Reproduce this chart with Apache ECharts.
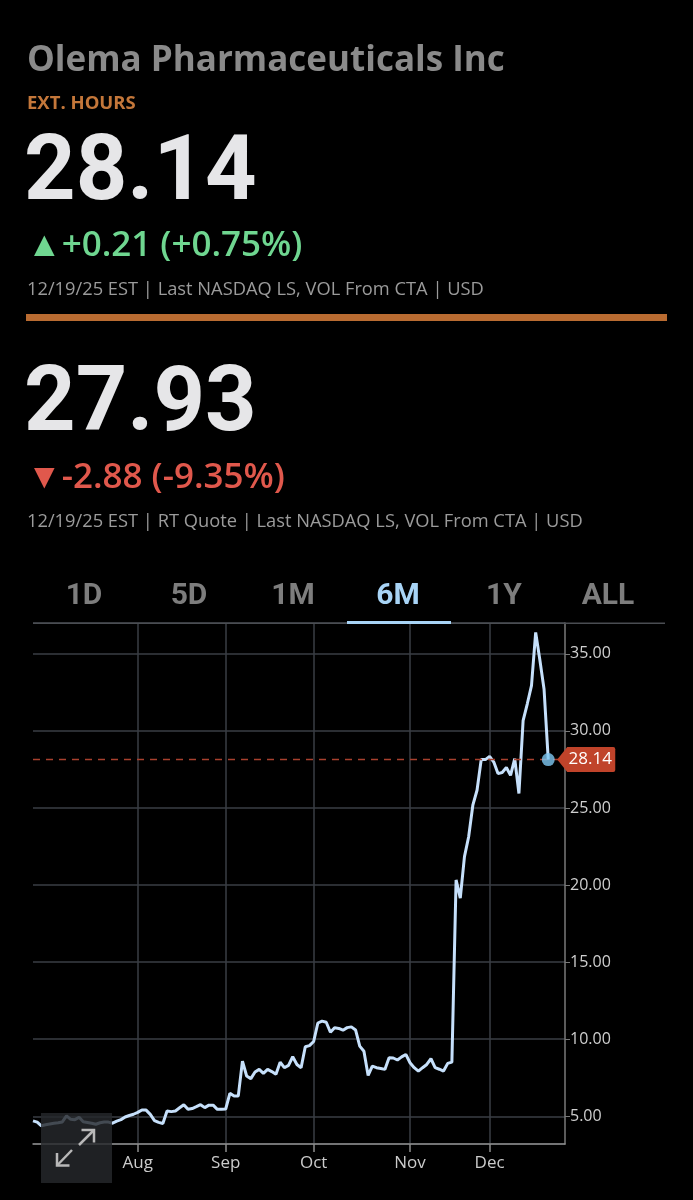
<!DOCTYPE html>
<html>
<head>
<meta charset="utf-8">
<script src="https://cdn.jsdelivr.net/npm/echarts@6/dist/echarts.min.js"></script>
<style>
html,body{margin:0;padding:0;background:#000;}
#chart{width:693px;height:1200px;}
</style>
</head>
<body>
<div id="chart"></div>
<script>
// ---- Data ----
const companyName = 'Olema Pharmaceuticals Inc';
const extLabel = 'EXT. HOURS';
const extPrice = '28.14';
const extChange = '▲+0.21 (+0.75%)';
const extInfo = '12/19/25 EST | Last NASDAQ LS, VOL From CTA | USD';
const closePrice = '27.93';
const closeChange = '▼-2.88 (-9.35%)';
const closeInfo = '12/19/25 EST | RT Quote | Last NASDAQ LS, VOL From CTA | USD';
const rangeTabs = ['1D', '5D', '1M', '6M', '1Y', 'ALL'];
const activeTab = '6M';

// trading days (categories); the last four are empty slots to the right of the last price
const dates = [
  '06-26','06-27','06-30',
  '07-01','07-02','07-03','07-07','07-08','07-09','07-10','07-11','07-14','07-15','07-16','07-17','07-18',
  '07-21','07-22','07-23','07-24','07-25','07-28','07-29','07-30','07-31',
  '08-01','08-04','08-05','08-06','08-07','08-08','08-11','08-12','08-13','08-14','08-15',
  '08-18','08-19','08-20','08-21','08-22','08-25','08-26','08-27','08-28','08-29',
  '09-02','09-03','09-04','09-05','09-08','09-09','09-10','09-11','09-12','09-15','09-16','09-17','09-18','09-19',
  '09-22','09-23','09-24','09-25','09-26','09-29','09-30',
  '10-01','10-02','10-03','10-06','10-07','10-08','10-09','10-10','10-13','10-14','10-15','10-16','10-17',
  '10-20','10-21','10-22','10-23','10-24','10-27','10-28','10-29','10-30','10-31',
  '11-03','11-04','11-05','11-06','11-07','11-10','11-11','11-12','11-13','11-14',
  '11-17','11-18','11-19','11-20','11-21','11-24','11-25','11-26','11-28',
  '12-01','12-02','12-03','12-04','12-05','12-08','12-09','12-10','12-11','12-12',
  '12-15','12-16','12-17','12-18','12-19',
  '12-22','12-23','12-24','12-26'
];

const prices = [
  4.70,4.62,4.38,
  4.45,4.50,4.55,4.58,4.63,5.02,4.80,4.78,4.93,4.64,4.60,4.55,4.48,
  4.58,4.63,4.62,4.55,4.68,4.78,4.95,5.05,5.13,
  5.25,5.41,5.40,5.12,4.72,4.60,4.53,5.34,5.30,5.34,5.55,
  5.75,5.45,5.50,5.62,5.75,5.56,5.72,5.72,5.45,5.45,
  5.47,6.49,6.31,6.31,8.58,7.61,7.44,7.87,8.04,7.78,8.04,7.90,7.72,8.51,
  8.15,8.30,8.86,8.36,8.15,9.51,9.58,
  9.85,11.05,11.17,11.10,10.45,10.74,10.70,10.58,10.75,10.80,10.60,9.55,9.22,
  7.65,8.25,8.15,8.10,8.04,8.80,8.78,8.65,8.85,9.01,
  8.47,8.15,7.93,8.15,8.36,8.73,8.15,8.05,7.93,8.43,
  8.51,20.33,19.15,21.84,23.13,25.18,26.15,28.14,28.14,
  28.35,27.98,27.23,27.30,27.62,27.12,28.20,25.94,30.67,31.76,
  32.94,36.39,34.60,32.70,28.14
];

// month gridlines / tick labels
const monthTicks = ['08-01','09-02','10-01','11-03','12-01'];
const monthLabels = ['Aug','Sep','Oct','Nov','Dec'];

const yMin = 3.2, yMax = 37.0;

// ---- Chart ----
const lastIdx = prices.length - 1;
const lastDate = dates[lastIdx];
const lastPrice = prices[lastIdx];
const isMonthTick = (i, v) => monthTicks.indexOf(v) >= 0;

const FONT = 'Roboto, "Noto Sans", sans-serif';
const WFONT = '"Open Sans", Roboto, sans-serif';
const gridColor = '#3a3e45';

const tabCenters = [84, 189, 293, 398, 504, 608];
const tabGraphics = rangeTabs.map((t, i) => ({
  type: 'text', x: tabCenters[i], y: 596,
  style: { text: t, fontFamily: FONT, fontSize: 30, fontWeight: 'bold',
    fill: t === activeTab ? '#a8d4f6' : '#7d7d7d', align: 'center', verticalAlign: 'middle' }
}));

const chart = echarts.init(document.getElementById('chart'), null, { renderer: 'canvas' });
chart.setOption({
  backgroundColor: '#000',
  animation: false,
  grid: { left: 33, right: 128, top: 623, bottom: 56 },
  xAxis: {
    type: 'category',
    data: dates,
    boundaryGap: false,
    axisLine: { show: true, lineStyle: { color: '#8c8c8c', width: 1.5 } },
    axisTick: { show: true, interval: isMonthTick, length: 8, lineStyle: { color: '#8c8c8c', width: 1.5 } },
    axisLabel: {
      interval: isMonthTick, color: '#cbcbcb', fontSize: 17, fontFamily: WFONT, margin: 11,
      formatter: v => monthLabels[monthTicks.indexOf(v)] || ''
    },
    splitLine: { show: true, interval: isMonthTick, lineStyle: { color: gridColor, width: 1.5 } }
  },
  yAxis: {
    type: 'value',
    position: 'right',
    min: yMin, max: yMax,
    splitNumber: 7,
    axisLine: { show: true, lineStyle: { color: '#7a7a7a', width: 1.5 } },
    axisTick: { show: true, length: 5, lineStyle: { color: '#7a7a7a' } },
    axisLabel: { color: '#cfcfcf', fontSize: 16, fontFamily: WFONT, margin: 5,
      showMinLabel: false, showMaxLabel: false, formatter: v => v.toFixed(2) },
    splitLine: { show: true, lineStyle: { color: gridColor, width: 1.5 } }
  },
  series: [
    {
      type: 'line',
      data: prices,
      showSymbol: false,
      lineStyle: { color: '#c6e0fb', width: 3 },
      itemStyle: { color: '#c6e0fb' },
      z: 3,
      markLine: {
        silent: true, symbol: 'none',
        lineStyle: { color: '#a8402e', type: [7, 6], width: 1.3 },
        label: { show: false },
        data: [{ yAxis: lastPrice }]
      },
      markPoint: {
        silent: true,
        symbol: 'path://M0,12 L10,0 L56,0 Q58,0 58,2 L58,22 Q58,24 56,24 L10,24 Z',
        symbolSize: [58, 25],
        symbolOffset: [38, 0],
        itemStyle: { color: '#c0432a' },
        label: { show: true, position: 'inside', offset: [4, 0], color: '#ffffff',
          fontSize: 17, fontFamily: WFONT, formatter: () => lastPrice.toFixed(2) },
        data: [{ coord: [lastDate, lastPrice] }]
      }
    },
    {
      type: 'scatter',
      data: [[lastDate, lastPrice]],
      symbolSize: 13,
      itemStyle: { color: '#7ec8f2' },
      z: 5
    }
  ],
  graphic: [
    { type: 'text', x: 27, y: 61, style: { text: companyName, fontFamily: WFONT, fontSize: 35, fontWeight: 'bold', fill: '#8a8a8a', verticalAlign: 'middle' } },
    { type: 'text', x: 27, y: 104, style: { text: extLabel, fontFamily: WFONT, fontSize: 18.5, fontWeight: 'bold', fill: '#c4773a', verticalAlign: 'middle' } },
    { type: 'text', x: 24, y: 176, style: { text: extPrice, fontFamily: FONT, fontSize: 90, fontWeight: 'bold', fill: '#e6e6e8', verticalAlign: 'middle' } },
    { type: 'text', x: 27, y: 246, style: { text: extChange, fontFamily: WFONT, fontSize: 35, fontWeight: 600, fill: '#6fd690', verticalAlign: 'middle' } },
    { type: 'text', x: 27, y: 290, style: { text: extInfo, fontFamily: WFONT, fontSize: 18.3, fill: '#9b9b9b', verticalAlign: 'middle' } },
    { type: 'rect', shape: { x: 26, y: 314, width: 641, height: 7 }, style: { fill: '#b96b31' } },
    { type: 'text', x: 24, y: 407, style: { text: closePrice, fontFamily: FONT, fontSize: 90, fontWeight: 'bold', fill: '#e6e6e8', verticalAlign: 'middle' } },
    { type: 'text', x: 27, y: 478, style: { text: closeChange, fontFamily: WFONT, fontSize: 35, fontWeight: 600, fill: '#e0584c', verticalAlign: 'middle' } },
    { type: 'text', x: 27, y: 522, style: { text: closeInfo, fontFamily: WFONT, fontSize: 18.3, fill: '#9b9b9b', verticalAlign: 'middle' } },
    ...tabGraphics,
    { type: 'rect', shape: { x: 33, y: 622.5, width: 632, height: 1.5 }, style: { fill: '#4a4d52' }, z: 10 },
    { type: 'rect', shape: { x: 347, y: 621, width: 104, height: 3 }, style: { fill: '#a8d4f6' }, z: 11 },
    // zoom widget
    { type: 'rect', shape: { x: 41, y: 1113, width: 71, height: 70 }, style: { fill: 'rgba(38,40,44,0.82)' }, z: 20 },
    { type: 'polyline', shape: { points: [[72, 1150], [57, 1165.5]] }, style: { stroke: '#b8b8b8', lineWidth: 2.5 }, z: 21 },
    { type: 'polyline', shape: { points: [[57, 1153], [57, 1165.5], [69.5, 1165.5]] }, style: { stroke: '#b8b8b8', lineWidth: 2.5, fill: null }, z: 21 },
    { type: 'polyline', shape: { points: [[79, 1145], [94, 1130]] }, style: { stroke: '#b8b8b8', lineWidth: 2.5 }, z: 21 },
    { type: 'polyline', shape: { points: [[81.5, 1130], [94, 1130], [94, 1142.5]] }, style: { stroke: '#b8b8b8', lineWidth: 2.5, fill: null }, z: 21 }
  ]
});
</script>
</body>
</html>
